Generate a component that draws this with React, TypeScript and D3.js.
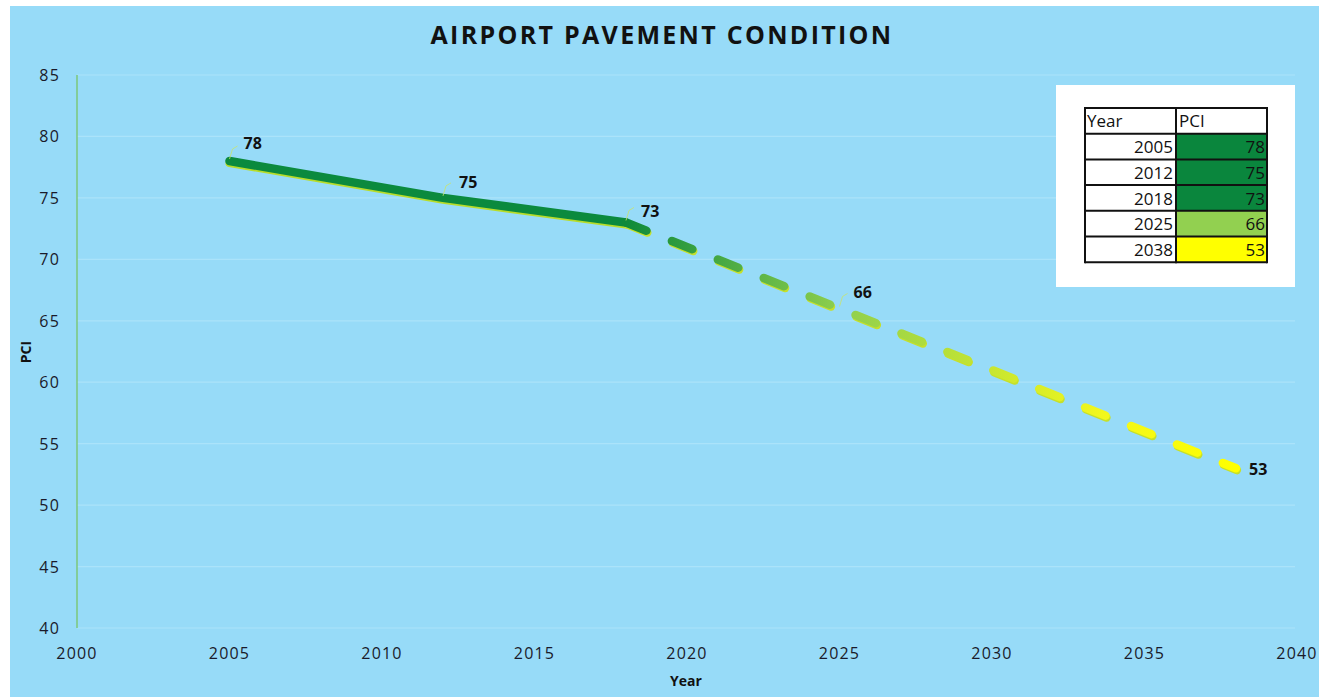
import React from "react";
import * as d3 from "d3";

const years = [2005, 2012, 2018, 2025, 2038];
const pci = [78, 75, 73, 66, 53];
const lastActualYear = 2018;
const xTicks = [2000, 2005, 2010, 2015, 2020, 2025, 2030, 2035, 2040];
const yTicks = [40, 45, 50, 55, 60, 65, 70, 75, 80, 85];
const tableHeader = ["Year", "PCI"];
const cellColors = ["#0A863D", "#0A863D", "#0A863D", "#92D050", "#FFFF00"];

const W = 1327;
const H = 698;
const FONT = "'Open Sans', 'DejaVu Sans', sans-serif";

export default function App() {
  const x = d3.scaleLinear().domain([2000, 2040]).range([77, 1297]);
  const y = d3.scaleLinear().domain([40, 85]).range([628, 75]);
  const data = years.map((yr, i) => ({ yr, v: pci[i] }));
  const actual = data.filter((d) => d.yr <= lastActualYear);
  const proj = data.filter((d) => d.yr >= lastActualYear);
  const line = d3
    .line<{ yr: number; v: number }>()
    .x((d) => x(d.yr))
    .y((d) => y(d.v));
  const gx0 = x(lastActualYear);
  const gx1 = x(2038);
  const labelOffsets: [number, number][] = [
    [14, -12],
    [16, -10],
    [15, -5],
    [14, -10],
    [13, 7],
  ];
  const tx = 1085;
  const tyTop = 108;
  const colW = 91;
  const rowH = 25.7;

  return (
    <svg
      width={W}
      height={H}
      style={{ position: "absolute", left: 0, top: 0, background: "#fff" }}
      fontFamily={FONT}
    >
      <defs>
        <linearGradient id="projGrad" gradientUnits="userSpaceOnUse" x1={gx0} y1={0} x2={gx1} y2={0}>
          <stop offset="0" stopColor="#0E8A3A" />
          <stop offset={String((x(2025) - gx0) / (gx1 - gx0))} stopColor="#8ECF4E" />
          <stop offset="0.78" stopColor="#F2F71C" />
          <stop offset="1" stopColor="#FFFF00" />
        </linearGradient>
      </defs>
      <rect x={10} y={6} width={1309} height={691} fill="#97DBF8" />
      <text x={662} y={44} textAnchor="middle" fontSize={25} fontWeight={700} letterSpacing={2.3} fill="#111">
        AIRPORT PAVEMENT CONDITION
      </text>
      {yTicks.map((t) => (
        <line key={"g" + t} x1={x(2000)} x2={1295} y1={y(t)} y2={y(t)} stroke="#ABE3FA" strokeWidth={1.2} />
      ))}
      <line x1={x(2000)} x2={x(2000)} y1={y(85)} y2={y(40)} stroke="#7CC77A" strokeWidth={1.5} />
      {yTicks.map((t) => (
        <text key={"yt" + t} x={60} y={y(t) + 6} textAnchor="end" fontSize={16} letterSpacing={1.2} fill="#1a1a2a">
          {t}
        </text>
      ))}
      {xTicks.map((t) => (
        <text key={"xt" + t} x={x(t)} y={659} textAnchor="middle" fontSize={16} letterSpacing={1.2} fill="#1a1a2a">
          {t}
        </text>
      ))}
      <text x={686} y={686} textAnchor="middle" fontSize={14} fontWeight={700} fill="#111">
        Year
      </text>
      <text transform={`translate(31,352) rotate(-90)`} textAnchor="middle" fontSize={14} fontWeight={700} fill="#111">
        PCI
      </text>
      <path d={line(actual) || ""} transform="translate(0,2)" fill="none" stroke="#B8DC2A" strokeWidth={8} strokeLinecap="round" />
      <path
        d={line(proj) || ""}
        transform="translate(1,2)"
        fill="none"
        stroke="#C6E02A"
        strokeWidth={8}
        strokeLinecap="round"
        strokeDasharray="22 27.5"
      />
      <path d={line(actual) || ""} fill="none" stroke="#0B8A3E" strokeWidth={8.5} strokeLinecap="round" strokeLinejoin="round" />
      <path
        d={line(proj) || ""}
        fill="none"
        stroke="url(#projGrad)"
        strokeWidth={8.5}
        strokeLinecap="round"
        strokeDasharray="22 27.5"
      />
      {data.map((d, i) => {
        const [dx, dy] = labelOffsets[i];
        const px = x(d.yr);
        const py = y(d.v);
        return (
          <g key={"l" + i}>
            {i < 4 && (
              <path
                d={`M${px},${py - 2} L${px + 3},${py - 12} L${px + 8},${py - 15}`}
                fill="none"
                stroke="#C9E46A"
                strokeWidth={1}
                opacity={0.8}
              />
            )}
            <text x={px + dx} y={py + dy} fontSize={16} fontWeight={700} fill="#111">
              {d.v}
            </text>
          </g>
        );
      })}
      <rect x={1056} y={85} width={239} height={202} fill="#fff" />
      <g>
        {[tableHeader, ...data.map((d) => [String(d.yr), String(d.v)])].map((row, r) => {
          const ry = tyTop + r * rowH;
          return (
            <g key={"r" + r}>
              <rect x={tx} y={ry} width={colW} height={rowH} fill="#fff" />
              <rect x={tx + colW} y={ry} width={colW} height={rowH} fill={r === 0 ? "#fff" : cellColors[r - 1]} />
              {r === 0 ? (
                <>
                  <text x={tx + 2} y={ry + 19} fontSize={17} fill="#111">
                    {row[0]}
                  </text>
                  <text x={tx + colW + 3} y={ry + 19} fontSize={17} fill="#111">
                    {row[1]}
                  </text>
                </>
              ) : (
                <>
                  <text x={tx + colW - 3} y={ry + 19.5} fontSize={17} textAnchor="end" fill="#111">
                    {row[0]}
                  </text>
                  <text x={tx + 2 * colW - 2} y={ry + 19.5} fontSize={17} textAnchor="end" fill="#111">
                    {row[1]}
                  </text>
                </>
              )}
            </g>
          );
        })}
        {d3.range(7).map((i) => (
          <line key={"h" + i} x1={tx} x2={tx + 2 * colW} y1={tyTop + i * rowH} y2={tyTop + i * rowH} stroke="#111" strokeWidth={2} />
        ))}
        {[0, 1, 2].map((i) => (
          <line key={"v" + i} x1={tx + i * colW} x2={tx + i * colW} y1={tyTop - 1} y2={tyTop + 6 * rowH + 1} stroke="#111" strokeWidth={2} />
        ))}
      </g>
    </svg>
  );
}
